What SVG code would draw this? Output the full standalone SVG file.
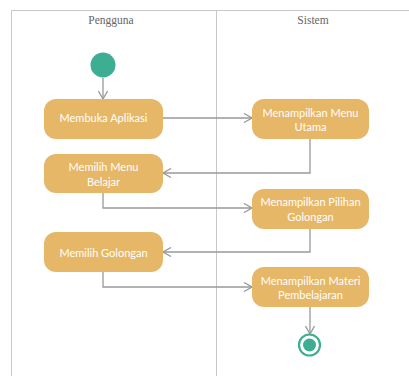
<svg xmlns="http://www.w3.org/2000/svg" width="409" height="376" viewBox="0 0 409 376">
<style>
.frame{fill:none;stroke:#c8c8c8;stroke-width:1}
.hdr{font-family:"Liberation Serif",serif;font-size:11.5px;fill:#666;text-anchor:middle}
.box{fill:#e6b767}
.lbl{font-family:Lato,"Liberation Sans",sans-serif;font-size:11px;fill:#fff;text-anchor:middle}
.conn{fill:none;stroke:#999;stroke-width:1.3}
</style>
<defs>
<marker id="arr" viewBox="0 0 10 10" refX="9" refY="5" markerWidth="10" markerHeight="10" markerUnits="userSpaceOnUse" orient="auto">
<path d="M1,0.5 L9,5 L1,9.5" fill="none" stroke="#999" stroke-width="1.3"/>
</marker>
</defs>
<rect width="409" height="376" fill="#fff"/>
<g id="lanes">
<path class="frame" d="M11.5,376 V10.5 H410 M216.5,10.5 V376"/>
<text class="hdr" x="111" y="24">Pengguna</text>
<text class="hdr" x="313" y="24">Sistem</text>
</g>
<g id="connectors">
<path class="conn" d="M103,78 V99" marker-end="url(#arr)"/>
<path class="conn" d="M163,118 H252" marker-end="url(#arr)"/>
<path class="conn" d="M310,139 V173 H163" marker-end="url(#arr)"/>
<path class="conn" d="M103,193 V208 H252" marker-end="url(#arr)"/>
<path class="conn" d="M310,229 V252 H163" marker-end="url(#arr)"/>
<path class="conn" d="M103,272 V287 H252" marker-end="url(#arr)"/>
<path class="conn" d="M310,307 V334" marker-end="url(#arr)"/>
</g>
<g id="start"><circle cx="103" cy="65" r="12.5" fill="#3eae92"/></g>
<g id="n1"><rect class="box" x="44" y="99" width="119" height="40" rx="12"/><text class="lbl" x="103.5" y="121.5">Membuka Aplikasi</text></g>
<g id="n2"><rect class="box" x="252" y="99" width="117" height="40" rx="12"/><text class="lbl" x="310.5" y="117">Menampilkan Menu</text><text class="lbl" x="310.5" y="131">Utama</text></g>
<g id="n3"><rect class="box" x="44" y="154" width="119" height="39" rx="12"/><text class="lbl" x="103.5" y="171">Memilih Menu</text><text class="lbl" x="103.5" y="186">Belajar</text></g>
<g id="n4"><rect class="box" x="252" y="189" width="117" height="40" rx="12"/><text class="lbl" x="310.5" y="206">Menampilkan Pilihan</text><text class="lbl" x="310.5" y="221">Golongan</text></g>
<g id="n5"><rect class="box" x="44" y="232" width="119" height="40" rx="12"/><text class="lbl" x="103.5" y="256.5">Memilih Golongan</text></g>
<g id="n6"><rect class="box" x="252" y="267" width="117" height="40" rx="12"/><text class="lbl" x="310.5" y="285">Menampilkan Materi</text><text class="lbl" x="310.5" y="299">Pembelajaran</text></g>
<g id="end"><circle cx="309.5" cy="345" r="10.5" fill="#fff" stroke="#3eae92" stroke-width="2.2"/><circle cx="309.5" cy="345" r="6.5" fill="#3eae92"/></g>
</svg>
